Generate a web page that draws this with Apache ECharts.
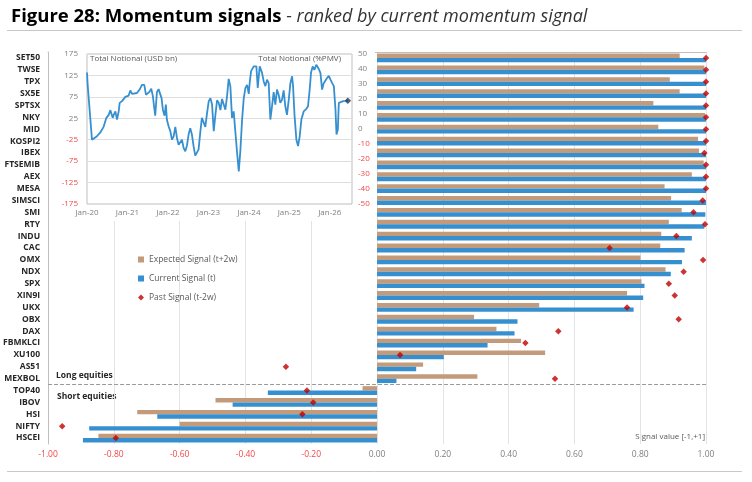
<!doctype html>
<html lang="en">
<head>
    <meta charset="UTF-8">
    <title>Figure 28: Momentum signals</title>
    <script src="https://cdn.jsdelivr.net/npm/echarts@6/dist/echarts.min.js"></script>
    <style>
        body { margin: 0; background-color: #ffffff; }
        #chart { width: 752px; height: 482px; }
    </style>
</head>
<body>
    <div id="chart"></div>

    <script>
        // --- data: signals ranked by current momentum ---
        const categories = ['SET50', 'TWSE', 'TPX', 'SX5E', 'SPTSX', 'NKY', 'MID', 'KOSPI2', 'IBEX', 'FTSEMIB',
            'AEX', 'MESA', 'SIMSCI', 'SMI', 'RTY', 'INDU', 'CAC', 'OMX', 'NDX', 'SPX', 'XIN9I', 'UKX', 'OBX',
            'DAX', 'FBMKLCI', 'XU100', 'AS51', 'MEXBOL', 'TOP40', 'IBOV', 'HSI', 'NIFTY', 'HSCEI'];
        const expectedSignal = [0.92, 0.995, 0.89, 0.92, 0.84, 0.997, 0.855, 0.976, 0.979, 0.993,
            0.957, 0.874, 0.894, 0.926, 0.887, 0.864, 0.861, 0.801, 0.877, 0.804, 0.76, 0.493, 0.295,
            0.363, 0.438, 0.511, 0.14, 0.305, -0.044, -0.491, -0.729, -0.6, -0.847];
        const currentSignal = [1, 1, 1, 1, 1, 1, 1, 1, 1, 1,
            1, 1, 1, 0.998, 0.995, 0.957, 0.935, 0.927, 0.893, 0.813, 0.809, 0.78, 0.427,
            0.418, 0.336, 0.203, 0.119, 0.059, -0.332, -0.439, -0.668, -0.875, -0.894];
        const pastSignal = [1, 1, 1, 1, 1, 1, 1, 1, 0.995, 1,
            1, 1, 0.99, 0.962, 0.997, 0.91, 0.707, 0.991, 0.932, 0.887, 0.905, 0.76, 0.917,
            0.551, 0.451, 0.07, -0.277, 0.541, -0.213, -0.194, -0.227, -0.957, -0.794];
        const firstShort = 'TOP40';
        const signalTicks = [-1, -0.8, -0.6, -0.4, -0.2, 0, 0.2, 0.4, 0.6, 0.8, 1];

        // --- data: total notional (USD bn) ---
        const notionalDates = ['2020-01-01', '2020-01-07', '2020-01-19', '2020-02-15', '2020-02-24', '2020-03-31',
            '2020-04-30', '2020-05-30', '2020-06-24', '2020-07-15', '2020-07-30', '2020-08-20', '2020-08-29',
            '2020-09-13', '2020-09-28', '2020-10-13', '2020-10-22', '2020-11-12', '2020-12-12', '2021-01-11',
            '2021-01-26', '2021-02-10', '2021-02-25', '2021-03-27', '2021-04-20', '2021-05-11', '2021-06-01',
            '2021-06-16', '2021-07-01', '2021-07-16', '2021-08-03', '2021-08-18', '2021-08-30', '2021-09-08',
            '2021-09-23', '2021-10-08', '2021-10-23', '2021-11-04', '2021-11-16', '2021-12-01', '2021-12-13',
            '2021-12-22', '2022-01-07', '2022-01-22', '2022-02-06', '2022-02-21', '2022-03-08', '2022-03-23',
            '2022-04-07', '2022-04-22', '2022-05-07', '2022-05-22', '2022-06-06', '2022-06-21', '2022-07-06',
            '2022-07-21', '2022-08-05', '2022-08-20', '2022-09-04', '2022-09-19', '2022-10-04', '2022-10-19',
            '2022-11-03', '2022-11-18', '2022-12-04', '2022-12-19', '2023-01-04', '2023-01-19', '2023-02-03',
            '2023-02-18', '2023-03-05', '2023-03-20', '2023-04-04', '2023-04-19', '2023-05-04', '2023-05-19',
            '2023-06-03', '2023-06-18', '2023-07-03', '2023-07-18', '2023-08-02', '2023-08-17', '2023-09-02',
            '2023-09-17', '2023-10-02', '2023-10-17', '2023-11-01', '2023-11-16', '2023-12-01', '2023-12-16',
            '2023-12-31', '2024-01-09', '2024-01-21', '2024-02-14', '2024-03-09', '2024-03-21', '2024-04-08',
            '2024-04-29', '2024-05-14', '2024-05-29', '2024-06-13', '2024-06-28', '2024-07-13', '2024-07-28',
            '2024-08-12', '2024-08-27', '2024-09-11', '2024-09-26', '2024-10-11', '2024-10-26', '2024-11-10',
            '2024-11-25', '2024-12-10', '2024-12-26', '2025-01-10', '2025-01-25', '2025-02-03', '2025-02-16',
            '2025-03-05', '2025-03-20', '2025-04-04', '2025-04-19', '2025-05-10', '2025-06-03', '2025-06-18',
            '2025-07-03', '2025-07-15', '2025-07-30', '2025-08-14', '2025-09-01', '2025-09-23', '2025-10-08',
            '2025-10-23', '2025-11-07', '2025-11-22', '2025-12-07', '2025-12-22', '2026-01-07', '2026-01-22',
            '2026-02-06', '2026-02-21', '2026-03-02', '2026-03-14', '2026-03-23', '2026-04-07', '2026-05-01',
            '2026-05-16', '2026-05-31', '2026-06-12'];
        const notionalValues = [132, 103, 100, -25, -29, -17,
            -8, 5, 26, 33, 44, 26, 33,
            41, 22, 41, 61, 65, 75, 78,
            90, 82, 86, 84, 92, 103, 103,
            80, 76, 86, 94, 76, 49, 31,
            86, 93, 90, 72, 45, 31, 57,
            22, 6, -5, -25, -17, 5, -21,
            -37, -40, -25, -44, -52, -39, -13,
            2, -13, -40, -62, -64, -48, -9,
            26, 22, 5, 36, 65, 72, 57,
            -5, 33, 67, 61, 44, 70, 72,
            45, 76, 117, 100, 26, 41, -9,
            -56, -99, -48, 22, 72, 96, 103,
            82, 109, 135, 146, 146, 96, 146,
            131, 111, 100, 115, 107, 22, 53,
            86, 57, 92, 80, 61, 68, 90,
            53, 33, 68, 107, 123, 100, 33,
            -25, -40, -17, 22, 41, 47, 53,
            92, 131, 146, 138, 150, 140, 131,
            92, 107, 111, 119, 124, 115, 107,
            100, 45, -13, -2, 61, 65, 65,
            61, 65, 66];

        const TAN = '#c39b7b';
        const BLUE = '#3690d0';
        const RED = '#c00000';
        const NEG = '#f04848';
        const GREY = '#7f7f7f';
        const FONT = 'Open Sans';
        const YEAR = 365.25 * 86400000;

        const notionalData = notionalDates.map((d, i) => [Date.parse(d), notionalValues[i]]);
        const lastPoint = notionalData[notionalData.length - 1];

        const signColour = v => (Number(v) < 0 ? NEG : GREY);

        const chart = echarts.init(document.getElementById('chart'));
        chart.setOption({
            animation: false,
            textStyle: { fontFamily: FONT },
            title: {
                left: 6, top: 2,
                text: '{b|Figure 28: Momentum signals}{i| - ranked by current momentum signal}',
                textStyle: {
                    rich: {
                        b: { fontFamily: FONT, fontSize: 18.5, fontWeight: 'bold', color: '#000000' },
                        i: { fontFamily: FONT, fontSize: 18, fontStyle: 'italic', fontWeight: 'normal', color: '#333333' }
                    }
                }
            },
            legend: {
                left: 133, top: 250, orient: 'vertical',
                itemWidth: 6, itemHeight: 6, itemGap: 10,
                textStyle: { fontSize: 8.5, color: '#595959' },
                data: [
                    { name: 'Expected Signal (t+2w)', icon: 'rect' },
                    { name: 'Current Signal (t)', icon: 'rect' },
                    { name: 'Past Signal (t-2w)', icon: 'diamond' }
                ]
            },
            grid: [
                { left: 48, right: 46, top: 52, bottom: 38 },
                { left: 87, right: 400, top: 54, bottom: 278, show: true, z: 6,
                  borderColor: '#bfbfbf', borderWidth: 1, backgroundColor: '#ffffff' }
            ],
            xAxis: [
                {
                    type: 'value', gridIndex: 0,
                    min: signalTicks[0], max: signalTicks[signalTicks.length - 1], interval: 0.2,
                    axisLine: { show: true, lineStyle: { color: '#bfbfbf' } },
                    axisTick: { show: false },
                    splitLine: { lineStyle: { color: '#e3e3e3' } },
                    axisLabel: { fontSize: 8.5, margin: 6, formatter: v => v.toFixed(2), color: signColour }
                },
                {
                    type: 'value', gridIndex: 1, z: 6,
                    min: Date.parse('2020-01-01'), max: Date.parse('2026-07-20'), interval: YEAR,
                    axisLine: { show: false },
                    axisTick: { show: false },
                    splitLine: { show: false },
                    axisLabel: {
                        fontSize: 8, color: GREY, margin: 5, showMaxLabel: false,
                        formatter: v => {
                            const d = new Date(v + 3 * 86400000);
                            return d.getUTCMonth() === 0 && d.getUTCDate() < 10
                                ? 'Jan-' + String(d.getUTCFullYear()).slice(2) : '';
                        }
                    }
                }
            ],
            yAxis: [
                {
                    type: 'category', gridIndex: 0, inverse: true, data: categories,
                    axisLine: { show: true, onZero: false, lineStyle: { color: '#bfbfbf' } },
                    axisTick: { show: false },
                    axisLabel: { fontSize: 8.5, fontWeight: 'bold', color: '#262626', margin: 8 }
                },
                {
                    type: 'value', gridIndex: 1, z: 6,
                    min: -175, max: 175, interval: 50,
                    axisLine: { show: false },
                    axisTick: { show: false },
                    splitLine: { lineStyle: { color: '#dedede' } },
                    axisLabel: { fontSize: 8, margin: 9, color: signColour }
                },
                {
                    type: 'value', gridIndex: 1, z: 6, position: 'right', alignTicks: false,
                    min: -50, max: 50, interval: 10,
                    axisLine: { show: false },
                    axisTick: { show: false },
                    splitLine: { show: false },
                    axisLabel: { fontSize: 8, margin: 6, color: signColour }
                },
                {
                    // row scale used to place the long / short divider
                    type: 'value', gridIndex: 0, inverse: true, show: false,
                    min: 0, max: categories.length
                }
            ],
            graphic: [
                { type: 'rect', z: 5, shape: { x: 49, y: 40, width: 326, height: 181 },
                  style: { fill: '#ffffff' }, silent: true },
                { type: 'line', shape: { x1: 7, y1: 30.5, x2: 742, y2: 30.5 },
                  style: { stroke: '#c8c8c8', lineWidth: 1 } },
                { type: 'line', shape: { x1: 7, y1: 471.5, x2: 742, y2: 471.5 },
                  style: { stroke: '#c8c8c8', lineWidth: 1 } },
                { type: 'text', z: 8, left: 90, top: 55,
                  style: { text: 'Total Notional (USD bn)', fontSize: 8, fontFamily: FONT, fill: '#595959' } },
                { type: 'text', z: 8, right: 411, top: 55,
                  style: { text: 'Total Notional (%PMV)', fontSize: 8, fontFamily: FONT, fill: '#595959' } },
                { type: 'text', left: 56, top: 371,
                  style: { text: 'Long equities', fontSize: 8.5, fontWeight: 'bold', fontFamily: FONT, fill: '#262626' } },
                { type: 'text', left: 57, top: 392,
                  style: { text: 'Short equities', fontSize: 8.5, fontWeight: 'bold', fontFamily: FONT, fill: '#262626' } },
                { type: 'text', right: 47, top: 433,
                  style: { text: 'Signal value [-1,+1]', fontSize: 8, fontFamily: FONT, fill: '#595959' } }
            ],
            series: [
                {
                    name: 'Expected Signal (t+2w)', type: 'bar',
                    xAxisIndex: 0, yAxisIndex: 0,
                    data: expectedSignal,
                    barWidth: 4.4, barGap: '0%',
                    itemStyle: { color: TAN }
                },
                {
                    name: 'Current Signal (t)', type: 'bar',
                    xAxisIndex: 0, yAxisIndex: 0,
                    data: currentSignal,
                    barWidth: 4.4, barGap: '0%',
                    itemStyle: { color: BLUE }
                },
                {
                    name: 'Past Signal (t-2w)', type: 'scatter',
                    xAxisIndex: 0, yAxisIndex: 0,
                    data: pastSignal,
                    symbol: 'diamond', symbolSize: 6.5, z: 4,
                    itemStyle: { color: RED }
                },
                {
                    type: 'line', xAxisIndex: 0, yAxisIndex: 3, data: [],
                    markLine: {
                        silent: true, symbol: 'none', label: { show: false },
                        lineStyle: { type: 'dashed', color: '#9a9a9a', width: 1 },
                        data: [{ yAxis: categories.indexOf(firstShort) }]
                    }
                },
                // --- inset: total notional ---
                {
                    name: 'Total Notional', type: 'line', z: 7,
                    xAxisIndex: 1, yAxisIndex: 1,
                    data: notionalData,
                    showSymbol: false,
                    lineStyle: { color: BLUE, width: 1.8 },
                    markLine: {
                        silent: true, symbol: 'none', label: { show: false },
                        lineStyle: { type: 'solid', color: '#8c8c8c', width: 1 },
                        data: [{ yAxis: 0 }]
                    }
                },
                {
                    type: 'scatter', z: 8,
                    xAxisIndex: 1, yAxisIndex: 1,
                    data: [lastPoint],
                    symbol: 'diamond', symbolSize: 7,
                    itemStyle: { color: '#1f3b5e', borderColor: '#ffffff', borderWidth: 0.5 }
                }
            ]
        });
    </script>
</body>
</html>
